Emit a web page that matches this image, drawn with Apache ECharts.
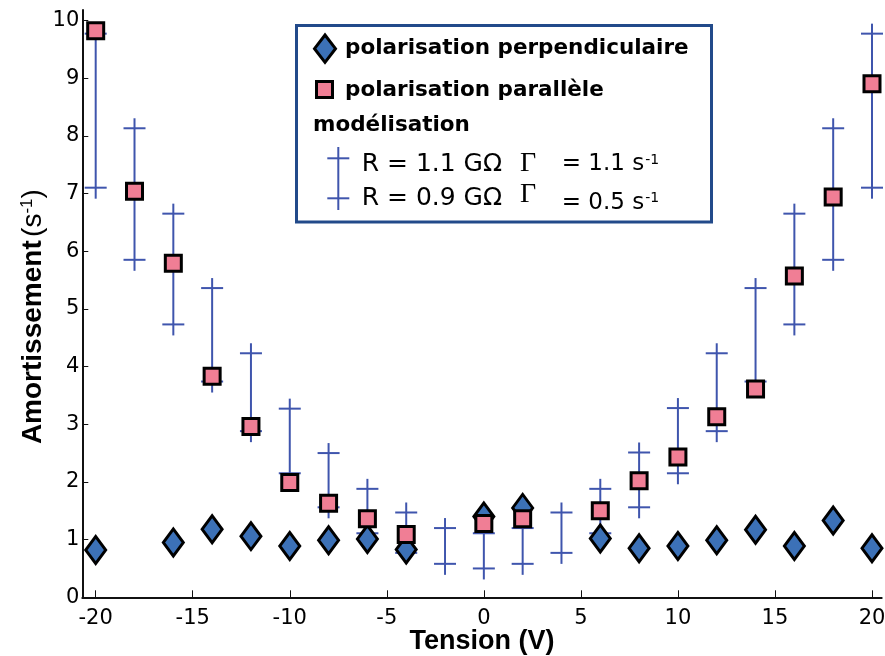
<!DOCTYPE html>
<html><head><meta charset="utf-8">
<script src="https://cdn.jsdelivr.net/npm/echarts@6/dist/echarts.min.js"></script>
<style>html,body{margin:0;padding:0;background:#fff}#c{width:885px;height:656px}</style>
</head><body><div id="c"></div><script>
// ---- data ----
const xTicks = [-20, -15, -10, -5, 0, 5, 10, 15, 20];
const yTicks = [0, 1, 2, 3, 4, 5, 6, 7, 8, 9, 10];

const perpX = [-20, -16, -14, -12, -10, -8, -6, -4, 0, 2, 6, 8, 10, 12, 14, 16, 18, 20];
const perpY = [0.82, 0.95, 1.18, 1.06, 0.89, 0.99, 1.01, 0.83, 1.40, 1.55, 1.02, 0.85, 0.89, 0.99, 1.17, 0.89, 1.33, 0.85];

const paraX = [-20, -18, -16, -14, -12, -10, -8, -6, -4, 0, 2, 6, 8, 10, 12, 14, 16, 18, 20];
const paraY = [9.82, 7.04, 5.79, 3.83, 2.96, 1.99, 1.63, 1.36, 1.09, 1.28, 1.36, 1.50, 2.02, 2.43, 3.13, 3.61, 5.57, 6.94, 8.90];

const modelX = [-20, -18, -16, -14, -12, -10, -8, -6, -4, -2, 0, 2, 4, 6, 8, 10, 12, 14, 16, 18, 20];
const modelHigh = [9.77, 8.13, 6.65, 5.36, 4.23, 3.27, 2.50, 1.88, 1.47, 1.20, 1.11, 1.20, 1.47, 1.88, 2.51, 3.28, 4.23, 5.36, 6.65, 8.13, 9.77]; // R = 1.1 GΩ
const modelLow  = [7.10, 5.85, 4.73, 3.74, 2.88, 2.15, 1.56, 1.11, 0.77, 0.58, 0.50, 0.58, 0.77, 1.11, 1.56, 2.15, 2.88, 3.74, 4.73, 5.85, 7.10]; // R = 0.9 GΩ

const seriesNames = ['polarisation perpendiculaire', 'polarisation parallèle'];
const xTitle = 'Tension (V)';

// ---- styles ----
const BAR = '#3f55ad';
const BLUE = '#3c71b7';
const PINK = '#f07e95';
const BOX = '#224a8a';

const chart = echarts.init(document.getElementById('c'), null, {renderer: 'canvas'});

const perpData = perpX.map((x, i) => [x, perpY[i]]);
const paraData = paraX.map((x, i) => [x, paraY[i]]);
const modelData = modelX.map((x, i) => [x, modelHigh[i], modelLow[i]]);

const tickFont = {fontFamily: 'DejaVu Sans', fontSize: 21, color: '#000'};

const legendText = (x, y, text, font) => ({
  type: 'text', x, y, z: 110,
  style: Object.assign({text, fill: '#000', verticalAlign: 'middle', align: 'left'}, font)
});
const boldLeg = {font: 'bold 21.5px "DejaVu Sans"'};
const regLeg = {font: '25px "DejaVu Sans"'};
const serifLeg = {font: '28px "Liberation Serif"'};
const supRich = {
  rich: {
    sup: {fontFamily: 'DejaVu Sans', fontSize: 14, verticalAlign: 'top', fill: '#000', padding: [0, 0, 0, 1]}
  }
};

const option = {
  backgroundColor: '#fff',
  animation: false,
  grid: {left: 82.3, right: 3.3, top: 10, bottom: 58.7, containLabel: false, outerBoundsMode: 'none'},
  xAxis: {
    type: 'value', min: -20.69, max: 20.5,
    name: xTitle, nameLocation: 'middle', nameGap: 31, nameMoveOverlap: false,
    nameTextStyle: {fontFamily: 'Liberation Sans', fontWeight: 'bold', fontSize: 27, color: '#000'},
    axisLine: {onZero: false, lineStyle: {color: '#111', width: 2}},
    axisTick: {inside: true, length: 7, customValues: xTicks, lineStyle: {color: '#111', width: 1}},
    axisLabel: Object.assign({customValues: xTicks, margin: 11}, tickFont),
    splitLine: {show: false}
  },
  yAxis: {
    type: 'value', min: 0, max: 10.18,
    name: '{b|Amortissement} {r|(s}{sup|-1}{r|)}', nameLocation: 'middle', nameGap: 35, nameMoveOverlap: false,
    nameTextStyle: {
      color: '#000', padding: [0, 26, 0, 0],
      rich: {
        b: {fontFamily: 'Liberation Sans', fontWeight: 'bold', fontSize: 28, color: '#000'},
        r: {fontFamily: 'Liberation Sans', fontSize: 28, color: '#000'},
        sup: {fontFamily: 'Liberation Sans', fontSize: 17, color: '#000', verticalAlign: 'top'}
      }
    },
    axisLine: {show: true, onZero: false, lineStyle: {color: '#111', width: 2}},
    axisTick: {show: true, inside: true, length: 6, customValues: yTicks, lineStyle: {color: '#111', width: 1}},
    axisLabel: Object.assign({customValues: yTicks, margin: 3}, tickFont),
    splitLine: {show: false}
  },
  series: [
    {
      name: 'modélisation', type: 'custom', z: 2,
      data: modelData,
      renderItem: function (params, api) {
        const x = api.value(0);
        const pH = api.coord([x, api.value(1)]);
        const pL = api.coord([x, api.value(2)]);
        const st = {stroke: BAR, lineWidth: 2};
        return {
          type: 'group', children: [
            {type: 'line', shape: {x1: pH[0], y1: pH[1] - 10, x2: pL[0], y2: pL[1] + 11}, style: st},
            {type: 'line', shape: {x1: pH[0] - 11, y1: pH[1], x2: pH[0] + 11, y2: pH[1]}, style: st},
            {type: 'line', shape: {x1: pL[0] - 11, y1: pL[1], x2: pL[0] + 11, y2: pL[1]}, style: st}
          ]
        };
      }
    },
    {
      name: seriesNames[0], type: 'scatter', z: 3, clip: false,
      data: perpData, symbol: 'diamond', symbolSize: [20, 27],
      itemStyle: {color: BLUE, borderColor: '#000', borderWidth: 3, opacity: 1}
    },
    {
      name: seriesNames[1], type: 'scatter', z: 4, clip: false,
      data: paraData, symbol: 'rect', symbolSize: 16,
      itemStyle: {color: PINK, borderColor: '#000', borderWidth: 3, opacity: 1}
    }
  ],
  graphic: [
    {type: 'rect', z: 100, shape: {x: 296.5, y: 25.5, width: 415, height: 196.5},
      style: {fill: '#fff', stroke: BOX, lineWidth: 3}},
    // diamond marker
    {type: 'polygon', z: 110, shape: {points: [[325, 35], [335.5, 48.7], [325, 62.4], [314.5, 48.7]]},
      style: {fill: BLUE, stroke: '#000', lineWidth: 3}},
    legendText(345, 48, seriesNames[0], boldLeg),
    // square marker
    {type: 'rect', z: 110, shape: {x: 316.5, y: 81.5, width: 16, height: 16},
      style: {fill: PINK, stroke: '#000', lineWidth: 3}},
    legendText(345, 90, seriesNames[1], boldLeg),
    legendText(313, 125.5, 'modélisation', boldLeg),
    // model crosses
    {type: 'line', z: 110, shape: {x1: 338.3, y1: 147, x2: 338.3, y2: 210}, style: {stroke: BAR, lineWidth: 2}},
    {type: 'line', z: 110, shape: {x1: 327.3, y1: 158.3, x2: 349.3, y2: 158.3}, style: {stroke: BAR, lineWidth: 2}},
    {type: 'line', z: 110, shape: {x1: 327.3, y1: 198.3, x2: 349.3, y2: 198.3}, style: {stroke: BAR, lineWidth: 2}},
    legendText(361.7, 164.5, 'R = 1.1 GΩ', regLeg),
    legendText(520, 164, 'Γ', serifLeg),
    legendText(561.7, 164.5, '= 1.1 s{sup|-1}', Object.assign({font: '23px "DejaVu Sans"'}, supRich)),
    legendText(361.7, 198, 'R = 0.9 GΩ', regLeg),
    legendText(520, 195, 'Γ', serifLeg),
    legendText(561.7, 203, '= 0.5 s{sup|-1}', Object.assign({font: '23px "DejaVu Sans"'}, supRich))
  ]
};
chart.setOption(option);
</script></body></html>
